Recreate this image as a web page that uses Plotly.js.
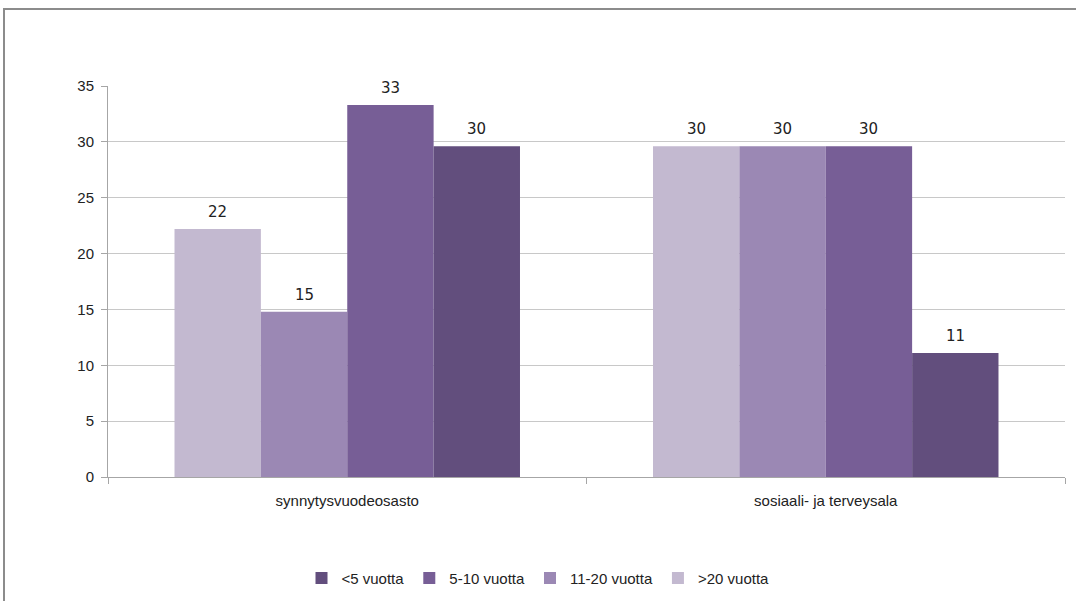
<!DOCTYPE html>
<html><head><meta charset="utf-8">
<script src="https://cdn.plot.ly/plotly-3.0.1.min.js"></script>
<style>
html,body{margin:0;padding:0;background:#fff;}
#wrap{position:relative;width:1076px;height:601px;overflow:hidden;}
#frame{position:absolute;left:3px;top:8px;width:1100px;height:620px;border:2px solid #8c8c8c;box-sizing:border-box;pointer-events:none;}
#chart{position:absolute;left:0;top:0;width:1076px;height:601px;}
</style></head>
<body><div id="wrap"><div id="chart"></div><div id="frame"></div></div>
<script>
const categories = ["synnytysvuodeosasto", "sosiaali- ja terveysala"];
const seriesNames = [">20 vuotta", "11-20 vuotta", "5-10 vuotta", "<5 vuotta"];
const over20 = [22.2, 29.6];
const y11to20 = [14.8, 29.6];
const y5to10 = [33.3, 29.6];
const under5 = [29.6, 11.1];
const colors = ["#C3B9D0", "#9B88B4", "#775E96", "#624E7D"];
const yTicks = [0, 5, 10, 15, 20, 25, 30, 35];

const BARGAP = 0.278;
const values = [over20, y11to20, y5to10, under5];
const nSeries = values.length;
const barW = (1 - BARGAP) / nSeries;

const traces = values.map((v, i) => ({
  type: "bar", name: seriesNames[i], x: categories, y: v,
  marker: {color: colors[i], line: {width: 0}},
  hoverinfo: "skip"
}));

const annotations = [];
values.forEach((v, i) => {
  v.forEach((d, j) => {
    annotations.push({
      x: j - (1 - BARGAP) / 2 + barW * (i + 0.5), xref: "x",
      y: d, yref: "y", yanchor: "bottom", yshift: 6,
      text: Math.round(d).toString(), showarrow: false,
      font: {family: "DejaVu Sans", size: 15, color: "#222"}
    });
  });
});

const layout = {
  width: 1076, height: 601,
  margin: {l: 108, r: 11, t: 86, b: 124},
  paper_bgcolor: "#fff", plot_bgcolor: "#fff",
  barmode: "group", bargap: BARGAP, bargroupgap: 0,
  font: {family: "Liberation Sans, sans-serif", size: 14, color: "#222"},
  xaxis: {type: "category", showline: true, linecolor: "#A6A6A6", linewidth: 1,
          ticks: "outside", tickson: "boundaries", ticklen: 6, tickcolor: "#A6A6A6",
          tickfont: {size: 15}, showgrid: false, ticklabelstandoff: 10},
  yaxis: {range: [0, 35], tickvals: yTicks, showline: true, linecolor: "#A6A6A6",
          ticks: "outside", ticklen: 6, tickcolor: "#A6A6A6", showgrid: true,
          gridcolor: "#C8C8C8", gridwidth: 1, zeroline: false, tickfont: {size: 15},
          ticklabelstandoff: 4},
  legend: {orientation: "h", traceorder: "reversed", x: 0.5, xanchor: "center",
           xref: "container", y: 0.038, yanchor: "middle", yref: "container",
           font: {size: 15}, itemwidth: 30},
  annotations: annotations,
  showlegend: true
};
Plotly.newPlot("chart", traces, layout, {displayModeBar: false, staticPlot: true});
</script></body></html>
